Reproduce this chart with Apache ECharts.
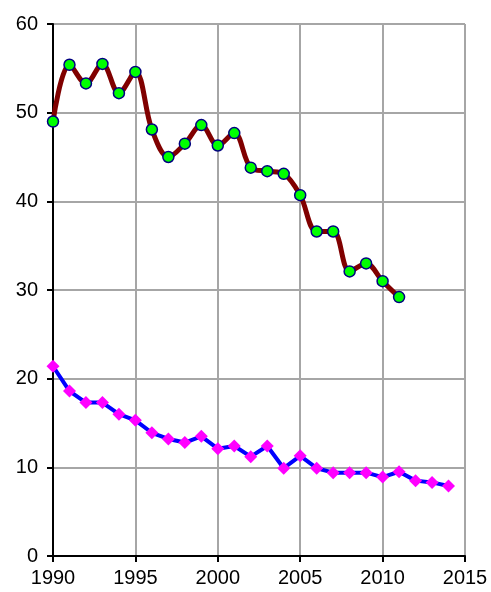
<!DOCTYPE html>
<html><head><meta charset="utf-8">
<script src="https://cdn.jsdelivr.net/npm/echarts@6/dist/echarts.min.js"></script>
<style>html,body{margin:0;padding:0;background:#fff}#c{width:491px;height:592px}</style>
</head><body><div id="c"></div>
<script>
const yearsA = [1990,1991,1992,1993,1994,1995,1996,1997,1998,1999,2000,2001,2002,2003,2004,2005,2006,2007,2008,2009,2010,2011];
const valuesA = [49.0,55.4,53.3,55.5,52.2,54.6,48.1,45.0,46.5,48.6,46.3,47.7,43.8,43.4,43.1,40.7,36.6,36.6,32.1,33.0,31.0,29.2];
const yearsB = [1990,1991,1992,1993,1994,1995,1996,1997,1998,1999,2000,2001,2002,2003,2004,2005,2006,2007,2008,2009,2010,2011,2012,2013,2014];
const valuesB = [21.4,18.6,17.3,17.3,16.0,15.3,13.9,13.2,12.8,13.5,12.1,12.4,11.2,12.4,9.9,11.3,9.9,9.4,9.4,9.4,8.9,9.5,8.5,8.3,7.9];

const chart = echarts.init(document.getElementById('c'), null, {renderer:'canvas'});
const font = {fontFamily:'Liberation Sans, Arial, sans-serif', fontSize:20, color:'#000'};
chart.setOption({
  animation:false,
  grid:{left:53,right:26,top:24,bottom:36,containLabel:false},
  xAxis:{type:'value',min:1990,max:2015,interval:5,
    axisLine:{show:true,onZero:false,lineStyle:{color:'#000',width:2}},
    axisTick:{show:true,length:6,lineStyle:{color:'#000',width:2}},
    axisLabel:Object.assign({margin:12,formatter:v=>String(v)},font),
    splitLine:{show:true,lineStyle:{color:'#a6a6a6',width:2}}},
  yAxis:{type:'value',min:0,max:60,interval:10,
    axisLine:{show:true,onZero:false,lineStyle:{color:'#000',width:2}},
    axisTick:{show:true,length:6,lineStyle:{color:'#000',width:2}},
    axisLabel:Object.assign({margin:15},font),
    splitLine:{show:true,lineStyle:{color:'#a6a6a6',width:2}}},
  series:[
    {type:'line',data:yearsA.map((y,i)=>[y,valuesA[i]]),smooth:0.35,
      lineStyle:{color:'#800000',width:5},
      symbol:'circle',symbolSize:11,
      itemStyle:{color:'#00ff00',borderColor:'#000080',borderWidth:1.5}},
    {type:'line',data:yearsB.map((y,i)=>[y,valuesB[i]]),smooth:false,
      lineStyle:{color:'#0000ff',width:4},
      symbol:'diamond',symbolSize:13,
      itemStyle:{color:'#ff00ff',borderColor:'#ff00ff',borderWidth:0}}
  ]
});
</script></body></html>
